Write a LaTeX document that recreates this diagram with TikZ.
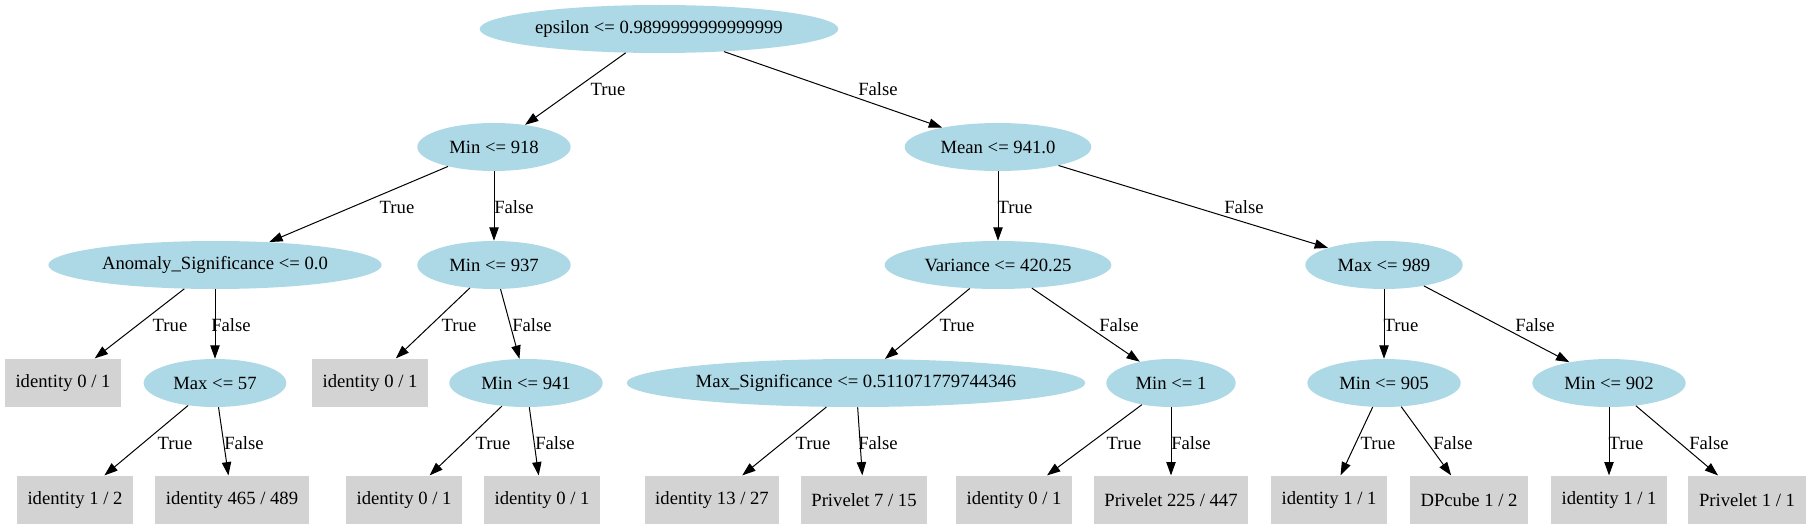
\documentclass[tikz,border=0pt]{standalone}
\usepackage{fontspec}
\setmainfont{Liberation Serif}
\usetikzlibrary{arrows.meta, shapes.geometric}
\definecolor{testblue}{HTML}{ADD8E6}
\definecolor{leafgray}{HTML}{D3D3D3}

\begin{document}
\begin{tikzpicture}[x=0.75pt, y=-0.75pt,
  test/.style={ellipse, fill=testblue, inner sep=0pt, minimum height=36pt, font=\fontsize{14}{16}\selectfont},
  leaf/.style={rectangle, fill=leafgray, inner xsep=8pt, inner ysep=0pt, minimum height=36.5pt, font=\fontsize{14}{16}\selectfont},
  edge/.style={-{Triangle[length=10pt, width=7pt]}, line width=0.75pt},
  elabel/.style={inner sep=0pt, font=\fontsize{14}{16}\selectfont}]
  \useasboundingbox (0,0) rectangle (1811,531);

  % Level 1
  \node[test, minimum width=269pt] (root) at (659,29) {epsilon <= 0.9899999999999999};
  % Level 2
  \node[test, minimum width=115pt] (mn918) at (494,147) {Min <= 918};
  \node[test, minimum width=140pt] (mean) at (998,147) {Mean <= 941.0};
  % Level 3
  \node[test, minimum width=250pt] (anom) at (215,265) {Anomaly\_Significance <= 0.0};
  \node[test, minimum width=115pt] (mn937) at (494,265) {Min <= 937};
  \node[test, minimum width=170pt] (var) at (998,265) {Variance <= 420.25};
  \node[test, minimum width=118pt] (mx989) at (1384,265) {Max <= 989};
  % Level 4
  \node[leaf] (l1) at (63,383) {identity 0 / 1};
  \node[test, minimum width=107pt] (mx57) at (215,383) {Max <= 57};
  \node[leaf] (l2) at (370,383) {identity 0 / 1};
  \node[test, minimum width=115pt] (mn941) at (526,383) {Min <= 941};
  \node[test, minimum width=344pt] (maxsig) at (856,383) {Max\_Significance <= 0.511071779744346};
  \node[test, minimum width=97pt] (mn1) at (1171,383) {Min <= 1};
  \node[test, minimum width=115pt] (mn905) at (1384,383) {Min <= 905};
  \node[test, minimum width=115pt] (mn902) at (1609,383) {Min <= 902};
  % Level 5
  \node[leaf] (l3) at (75,500) {identity 1 / 2};
  \node[leaf] (l4) at (232,500) {identity 465 / 489};
  \node[leaf] (l5) at (404,500) {identity 0 / 1};
  \node[leaf] (l6) at (542,500) {identity 0 / 1};
  \node[leaf] (l7) at (712,500) {identity 13 / 27};
  \node[leaf] (l8) at (864,500) {Privelet 7 / 15};
  \node[leaf] (l9) at (1014,500) {identity 0 / 1};
  \node[leaf] (l10) at (1171,500) {Privelet 225 / 447};
  \node[leaf] (l11) at (1329,500) {identity 1 / 1};
  \node[leaf] (l12) at (1469,500) {DPcube 1 / 2};
  \node[leaf] (l13) at (1609,500) {identity 1 / 1};
  \node[leaf] (l14) at (1747,500) {Privelet 1 / 1};

  % Edges
  \draw[edge] (root) -- (mn918);
  \draw[edge] (root) -- (mean);
  \draw[edge] (mn918) -- (anom);
  \draw[edge] (mn918) -- (mn937);
  \draw[edge] (mean) -- (var);
  \draw[edge] (mean) -- (mx989);
  \draw[edge] (anom) -- (l1);
  \draw[edge] (anom) -- (mx57);
  \draw[edge] (mn937) -- (l2);
  \draw[edge] (mn937) -- (mn941);
  \draw[edge] (var) -- (maxsig);
  \draw[edge] (var) -- (mn1);
  \draw[edge] (mx989) -- (mn905);
  \draw[edge] (mx989) -- (mn902);
  \draw[edge] (mx57) -- (l3);
  \draw[edge] (mx57) -- (l4);
  \draw[edge] (mn941) -- (l5);
  \draw[edge] (mn941) -- (l6);
  \draw[edge] (maxsig) -- (l7);
  \draw[edge] (maxsig) -- (l8);
  \draw[edge] (mn1) -- (l9);
  \draw[edge] (mn1) -- (l10);
  \draw[edge] (mn905) -- (l11);
  \draw[edge] (mn905) -- (l12);
  \draw[edge] (mn902) -- (l13);
  \draw[edge] (mn902) -- (l14);

  % Edge labels
  \node[elabel] (t1) at (608,89) {True};
  \node[elabel] (f1) at (878,89) {False};
  \node[elabel] (t2) at (397,207) {True};
  \node[elabel] (f2) at (514,207) {False};
  \node[elabel] (t3) at (1015,207) {True};
  \node[elabel] (f3) at (1244,207) {False};
  \node[elabel] (t4) at (170,325) {True};
  \node[elabel] (f4) at (231,325) {False};
  \node[elabel] (t5) at (459,325) {True};
  \node[elabel] (f5) at (532,325) {False};
  \node[elabel] (t6) at (957,325) {True};
  \node[elabel] (f6) at (1119,325) {False};
  \node[elabel] (t7) at (1401,325) {True};
  \node[elabel] (f7) at (1535,325) {False};
  \node[elabel] (t8) at (175,443) {True};
  \node[elabel] (f8) at (244,443) {False};
  \node[elabel] (t9) at (493,443) {True};
  \node[elabel] (f9) at (555,443) {False};
  \node[elabel] (t10) at (813,443) {True};
  \node[elabel] (f10) at (878,443) {False};
  \node[elabel] (t11) at (1124,443) {True};
  \node[elabel] (f11) at (1191,443) {False};
  \node[elabel] (t12) at (1378,443) {True};
  \node[elabel] (f12) at (1453,443) {False};
  \node[elabel] (t13) at (1626,443) {True};
  \node[elabel] (f13) at (1709,443) {False};
\end{tikzpicture}
\end{document}
